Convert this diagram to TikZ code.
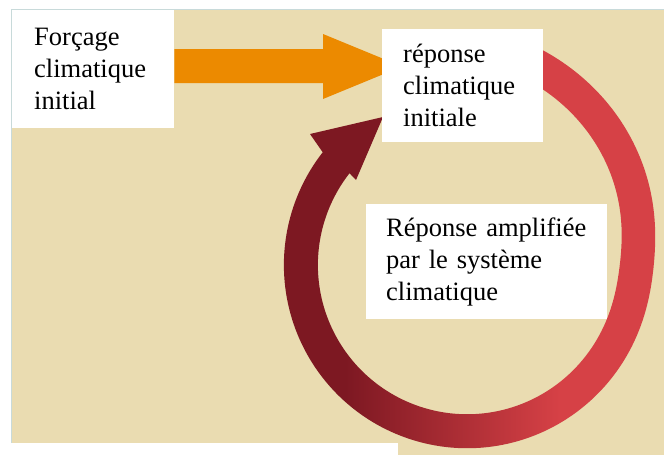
\documentclass[tikz,border=0pt]{standalone}
\usepackage{fontspec}
\setmainfont{Liberation Serif}
\pgfdeclarelayer{back}
\pgfdeclarelayer{mid}
\pgfsetlayers{back,mid,main}
\definecolor{beige}{RGB}{234,220,177}
\definecolor{edgeblue}{RGB}{200,218,218}
\definecolor{orangeA}{RGB}{236,138,0}
\definecolor{ringdark}{RGB}{125,24,34}
\definecolor{ringlight}{RGB}{214,65,70}
\begin{document}
\begin{tikzpicture}[x=1pt,y=-1pt,
  box/.style={rectangle, fill=white, anchor=north west, align=left,
    inner ysep=0pt, font=\fontsize{26.5}{32}\selectfont},
  orangearrow/.style={fill=orangeA},
  declare function={ringr(\a)=0.315*(10*sqrt((\a/10)*(\a/10)+1.44)-\a);},
]
\useasboundingbox (0,0) rectangle (664,455);
\node[box, inner xsep=22pt, text width=118pt, minimum height=118pt] (b1) at (12,10) {Forçage\\climatique\\initial};
\node[box, inner xsep=21pt, text width=119pt, minimum height=113pt] (b2) at (382,29) {réponse\\climatique\\initiale};
\node[box, inner xsep=20pt, text width=201pt, minimum height=115pt] (b3) at (366,204) {Réponse amplifiée\\par le système\\climatique};
\begin{pgfonlayer}{back}
  \fill[white] (0,0) rectangle (664,455);
  \fill[beige] (11,9) rectangle (664,455);
  \draw[edgeblue, line width=1pt] (11,443) -- (11,9.5) -- (664,9.5);
  \fill[white] (0,443) rectangle (398,455);
\end{pgfonlayer}
\begin{pgfonlayer}{mid}
  \coordinate (otip) at (402,66.5);
  \fill[orangearrow] (b1.east |- 0,49) -- (323,49) -- (323,34) -- (otip) -- (323,99) -- (323,83) -- (b1.east |- 0,83) -- cycle;
  \coordinate (rtip) at (383,117);
  \begin{scope}
    \clip plot[domain=-80:218, samples=200, variable=\t]
        ({467+(183+ringr(\t))*cos(\t)},{265+(183+ringr(\t))*sin(\t)})
      -- (310,134) -- (rtip) -- (356,180) --
      plot[domain=218:-80, samples=200, variable=\t]
        ({467+(149+ringr(\t))*cos(\t)},{265+(149+ringr(\t))*sin(\t)})
      -- cycle;
    \fill[ringdark] (250,0) rectangle (345,460);
    \fill[ringdark] (345,0) rectangle (440,300);
    \shade[left color=ringdark, right color=ringlight] (345,300) rectangle (560,460);
    \fill[ringlight] (440,0) rectangle (560,300);
    \fill[ringlight] (560,0) rectangle (670,460);
  \end{scope}
\end{pgfonlayer}
\end{tikzpicture}
\end{document}
